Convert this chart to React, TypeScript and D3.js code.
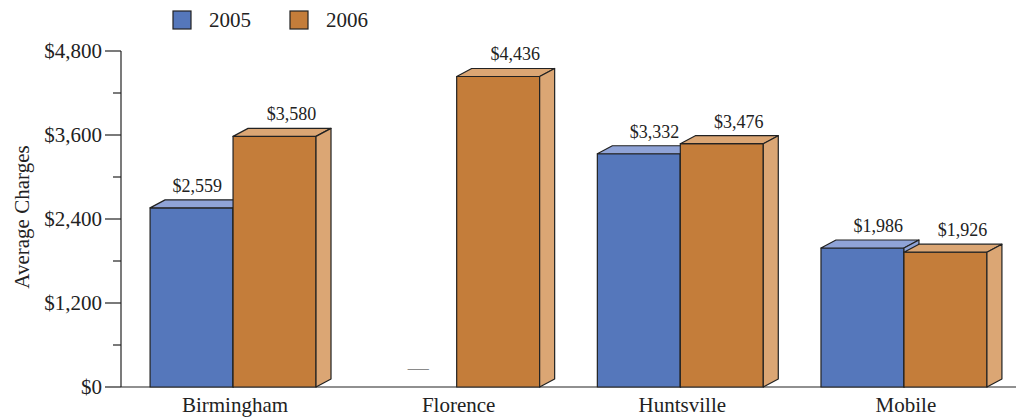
import React from "react";
import * as d3 from "d3";

const cities = ["Birmingham", "Florence", "Huntsville", "Mobile"];
const seriesNames = ["2005", "2006"];
const values2005: (number | null)[] = [2559, null, 3332, 1986];
const values2006: (number | null)[] = [3580, 4436, 3476, 1926];
const yTicks = [0, 1200, 2400, 3600, 4800];
const yMinorTicks = [600, 1800, 3000, 4200];

const W = 1016;
const H = 418;
const FONT = "'Liberation Serif', 'Times New Roman', serif";
const FS = 21;
const LFS = 18;
const DX = 15;
const DY = 8;

const colors = {
  "2005": { front: "#5577bb", top: "#8fa3d7", side: "#8fa3d7" },
  "2006": { front: "#c47d3a", top: "#dba674", side: "#dba674" },
} as Record<string, { front: string; top: string; side: string }>;

const fmt = (v: number) => "$" + d3.format(",")(v);

// rough width estimate for Times-like digits
const textWidth = (s: string, fs: number) => {
  let w = 0;
  for (const c of s) w += c === "," ? 0.25 : 0.5;
  return w * fs;
};

export default function App() {
  const x0 = 121;
  const yBase = 387;
  const y = d3.scaleLinear().domain([0, 4800]).range([yBase, 51]);
  const x = d3
    .scaleBand<string>()
    .domain(cities)
    .range([x0, W])
    .paddingInner(0.258)
    .paddingOuter(0.13);
  const xs = d3
    .scaleBand<string>()
    .domain(seriesNames)
    .range([0, x.bandwidth()])
    .padding(0);
  const bw = xs.bandwidth();
  const series = [values2005, values2006];

  const bars: React.ReactNode[] = [];
  const labels: React.ReactNode[] = [];

  cities.forEach((city, ci) => {
    series.forEach((vals, si) => {
      const name = seriesNames[si];
      const v = vals[ci];
      const bx = (x(city) as number) + (xs(name) as number);
      const cx = bx + bw / 2;
      if (v == null) {
        labels.push(
          <text
            key={`l-${ci}-${si}`}
            x={cx + 3}
            y={yBase - 12}
            textAnchor="middle"
            fontFamily={FONT}
            fontSize={FS}
            fill="#8a8a8a"
          >
            —
          </text>
        );
        return;
      }
      const top = y(v);
      const c = colors[name];
      bars.push(
        <g key={`b-${ci}-${si}`} stroke="#222" strokeWidth={1.2} strokeLinejoin="round">
          <rect x={bx} y={top} width={bw} height={yBase - top} fill={c.front} />
          <path
            d={`M${bx},${top}L${bx + DX},${top - DY}L${bx + bw + DX},${top - DY}L${bx + bw},${top}Z`}
            fill={c.top}
          />
          <path
            d={`M${bx + bw},${top}L${bx + bw + DX},${top - DY}L${bx + bw + DX},${yBase - DY}L${bx + bw},${yBase}Z`}
            fill={c.side}
          />
        </g>
      );
      const label = fmt(v);
      const tw = textWidth(label, LFS);
      const baseline = top - DY - 8;
      let lx = cx + 17;
      const nextVals = series[si + 1];
      if (nextVals) {
        const nv = nextVals[ci];
        const nextX = bx + bw;
        if (nv != null) {
          const nTop = y(nv);
          if (nTop < baseline - 10) {
            lx = Math.min(lx, nextX - 11 - tw / 2);
          } else if (lx + tw / 2 > nextX) {
            lx = nextX - 1 - tw / 2;
          }
        }
      }
      labels.push(
        <text
          key={`l-${ci}-${si}`}
          x={lx}
          y={baseline}
          textAnchor="middle"
          fontFamily={FONT}
          fontSize={LFS}
          fill="#222"
        >
          {label}
        </text>
      );
    });
  });

  return (
    <svg
      width={W}
      height={H}
      style={{ position: "absolute", left: 0, top: 0, display: "block", background: "#fff" }}
    >
      {/* legend */}
      {seriesNames.map((name, i) => {
        const lx = 173 + i * 117;
        return (
          <g key={`lg-${name}`}>
            <rect x={lx} y={11} width={18} height={18} fill={colors[name].front} stroke="#222" strokeWidth={1.2} />
            <text x={lx + 36} y={27} fontFamily={FONT} fontSize={FS} fill="#222">
              {name}
            </text>
          </g>
        );
      })}

      {/* y axis */}
      <line x1={x0} x2={x0} y1={y(4800)} y2={yBase} stroke="#222" strokeWidth={1.2} />
      {yTicks.map((t) => (
        <g key={`yt-${t}`}>
          <line x1={x0 - 16} x2={x0} y1={y(t)} y2={y(t)} stroke="#222" strokeWidth={1.2} />
          <text
            x={102}
            y={y(t) + 7}
            textAnchor="end"
            fontFamily={FONT}
            fontSize={FS}
            fill="#222"
          >
            {fmt(t)}
          </text>
        </g>
      ))}
      {yMinorTicks.map((t) => (
        <line key={`ym-${t}`} x1={x0 - 8} x2={x0} y1={y(t)} y2={y(t)} stroke="#222" strokeWidth={1.2} />
      ))}
      <text
        transform={`translate(29,217) rotate(-90)`}
        textAnchor="middle"
        fontFamily={FONT}
        fontSize={FS}
        fill="#222"
      >
        Average Charges
      </text>

      {/* baseline */}
      <line x1={x0} x2={W} y1={yBase} y2={yBase} stroke="#222" strokeWidth={1.2} />

      {bars}
      {labels}

      {/* x labels */}
      {cities.map((city) => (
        <text
          key={`xl-${city}`}
          x={(x(city) as number) + x.bandwidth() / 2 + 2}
          y={412}
          textAnchor="middle"
          fontFamily={FONT}
          fontSize={FS}
          fill="#222"
        >
          {city}
        </text>
      ))}
    </svg>
  );
}
